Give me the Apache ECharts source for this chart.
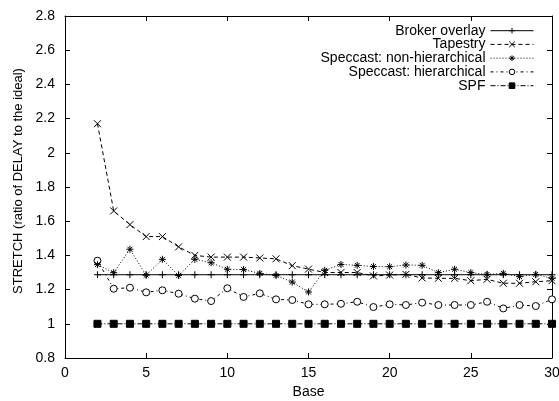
<!DOCTYPE html>
<html>
<head>
<meta charset="utf-8">
<script src="https://cdn.jsdelivr.net/npm/echarts@6/dist/echarts.min.js"></script>
<style>
  html, body { margin: 0; padding: 0; background: #fff; }
  #chart { width: 559px; height: 401px; }
</style>
</head>
<body>
<div id="chart"></div>
<script>
// Base values on the x axis
const bases = [2, 3, 4, 5, 6, 7, 8, 9, 10, 11, 12, 13, 14, 15, 16, 17, 18, 19, 20, 21, 22, 23, 24, 25, 26, 27, 28, 29, 30];

// Stretch per scheme
const brokerOverlay = [1.287, 1.287, 1.287, 1.287, 1.287, 1.287, 1.287, 1.287, 1.287, 1.287, 1.287, 1.287, 1.287, 1.287, 1.287,
  1.287, 1.287, 1.287, 1.287, 1.287, 1.287, 1.287, 1.287, 1.287, 1.287, 1.287, 1.287, 1.287, 1.287];
const tapestry = [2.17, 1.66, 1.58, 1.51, 1.51, 1.45, 1.40, 1.39, 1.39, 1.39, 1.385, 1.38, 1.34, 1.32, 1.30,
  1.30, 1.30, 1.28, 1.285, 1.289, 1.268, 1.266, 1.266, 1.252, 1.26, 1.237, 1.237, 1.246, 1.252];
const speccastFlat = [1.346, 1.299, 1.436, 1.284, 1.377, 1.282, 1.377, 1.357, 1.319, 1.317, 1.295, 1.283, 1.244, 1.186, 1.313,
  1.347, 1.342, 1.335, 1.334, 1.344, 1.342, 1.299, 1.319, 1.299, 1.289, 1.295, 1.276, 1.289, 1.266];
const speccastHier = [1.369, 1.205, 1.211, 1.184, 1.196, 1.176, 1.147, 1.133, 1.208, 1.157, 1.178, 1.143, 1.139, 1.114, 1.114,
  1.117, 1.129, 1.098, 1.114, 1.110, 1.124, 1.110, 1.110, 1.110, 1.129, 1.090, 1.110, 1.104, 1.143];
const spf = [1, 1, 1, 1, 1, 1, 1, 1, 1, 1, 1, 1, 1, 1, 1,
  1, 1, 1, 1, 1, 1, 1, 1, 1, 1, 1, 1, 1, 1];

const seriesNames = ['Broker overlay', 'Tapestry', 'Speccast: non-hierarchical', 'Speccast: hierarchical', 'SPF'];
const seriesValues = [brokerOverlay, tapestry, speccastFlat, speccastHier, spf];

// Axis ranges
const xRange = { min: 0, max: 30, interval: 5 };
const yRange = { min: 0.8, max: 2.8, interval: 0.2 };

const FONT = 'Liberation Sans';
const INK = '#000';

const markers = [
  { symbol: 'path://M0,5L10,5M5,0L5,10', size: 7, fill: 'none' },
  { symbol: 'path://M0,0L10,10M10,0L0,10', size: 7, fill: 'none' },
  { symbol: 'path://M0,5L10,5M5,0L5,10M1.5,1.5L8.5,8.5M8.5,1.5L1.5,8.5', size: 7, fill: 'none' },
  { symbol: 'circle', size: 7, fill: '#fff' },
  { symbol: 'rect', size: 7, fill: INK }
];
const dashes = ['solid', [4, 3], [1, 2], [3, 3, 1, 3], [5, 2, 1, 2]];

const series = seriesNames.map((name, i) => ({
  name,
  type: 'line',
  xAxisIndex: 0,
  yAxisIndex: 0,
  data: bases.map((b, j) => [b, seriesValues[i][j]]),
  symbol: markers[i].symbol,
  symbolSize: markers[i].size,
  showAllSymbol: true,
  lineStyle: { color: INK, width: 1, type: dashes[i] },
  itemStyle: { color: markers[i].fill, borderColor: INK, borderWidth: 1 },
  emphasis: { disabled: true },
  z: 10 - i
}));

// One legend per entry so the samples line up on the right edge
const legendRows = [31.7, 45.4, 59.2, 72.9, 86.7];
const legends = seriesNames.map((name, i) => ({
  data: [name],
  right: 25,
  top: legendRows[i] - 8,
  orient: 'vertical',
  align: 'right',
  itemWidth: 43,
  itemHeight: 7,
  itemGap: 0,
  padding: 0,
  selectedMode: false,
  lineStyle: { width: 1 },
  itemStyle: { borderWidth: 1 },
  textStyle: { fontFamily: FONT, fontSize: 14, color: INK, padding: [0, 0, 0, 0] }
}));

const tickStyle = { show: true, inside: true, length: 5, lineStyle: { color: INK, width: 1 } };
const lineStyle = { show: true, onZero: false, lineStyle: { color: INK, width: 1 } };
const fmt = v => String(Math.round(v * 10) / 10);

const option = {
  animation: false,
  backgroundColor: '#fff',
  textStyle: { fontFamily: FONT },
  grid: { left: 65, right: 7, top: 16, bottom: 43, containLabel: false, outerBoundsMode: 'none' },
  legend: legends,
  xAxis: [
    {
      type: 'value', position: 'bottom', ...xRange,
      name: 'Base', nameLocation: 'middle', nameGap: 25,
      nameTextStyle: { fontFamily: FONT, fontSize: 14, color: INK },
      axisLine: lineStyle, axisTick: tickStyle,
      axisLabel: { fontFamily: FONT, fontSize: 14, color: INK, margin: 8, formatter: fmt, showMinLabel: true, showMaxLabel: true },
      splitLine: { show: false }
    },
    {
      type: 'value', position: 'top', ...xRange,
      axisLine: lineStyle, axisTick: tickStyle,
      axisLabel: { show: false }, splitLine: { show: false }
    }
  ],
  yAxis: [
    {
      type: 'value', position: 'left', ...yRange,
      name: 'STRETCH (ratio of DELAY to the ideal)', nameLocation: 'middle', nameGap: 40,
      nameTextStyle: { fontFamily: FONT, fontSize: 13, color: INK, padding: [0, 0, 0, 12] },
      axisLine: lineStyle, axisTick: tickStyle,
      axisLabel: { fontFamily: FONT, fontSize: 14, color: INK, margin: 10, formatter: fmt, showMinLabel: true, showMaxLabel: true },
      splitLine: { show: false }
    },
    {
      type: 'value', position: 'right', ...yRange,
      axisLine: lineStyle, axisTick: tickStyle,
      axisLabel: { show: false }, splitLine: { show: false }
    }
  ],
  series
};

const chart = echarts.init(document.getElementById('chart'), null, { renderer: 'canvas' });
chart.setOption(option);
</script>
</body>
</html>
